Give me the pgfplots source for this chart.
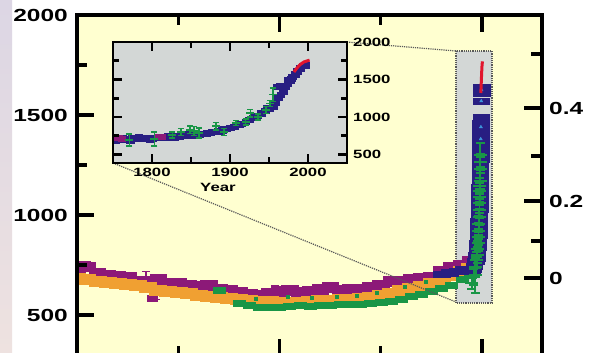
\documentclass[border=0pt]{standalone}
\usepackage{pgfplots}
\pgfplotsset{compat=1.18}
\usepackage{fontspec}
\setmainfont{Liberation Sans}
\newfontfamily\lblfont[FakeStretch=1.4]{Liberation Sans}
\definecolor{bgyellow}{RGB}{255,255,208}
\definecolor{insetgray}{RGB}{211,215,214}
\definecolor{purp}{RGB}{140,25,120}
\definecolor{orng}{RGB}{240,160,50}
\definecolor{grn}{RGB}{25,150,70}
\definecolor{navy}{RGB}{40,30,130}
\definecolor{lblue}{RGB}{60,150,220}
\definecolor{redd}{RGB}{225,20,45}
\definecolor{lav}{RGB}{220,214,228}
\definecolor{pinkish}{RGB}{238,226,224}
\begin{document}
\begin{tikzpicture}[x=1pt,y=1pt]
\useasboundingbox (0,0) rectangle (590,353);
\clip (0,0) rectangle (590,353);
\fill[white] (0,0) rectangle (590,353);
\shade[top color=lav, bottom color=pinkish] (0,0) rectangle (12,353);

% ---------------- main axis (x = years relative to 2005, negative = past) ----------------
\begin{axis}[
  at={(77pt,-3pt)}, anchor=south west, scale only axis,
  width=465pt, height=341pt,
  xmin=-10000, xmax=1480,
  ymin=295, ymax=2000,
  clip marker paths=true,
  axis on top,
  axis background/.style={fill=bgyellow},
  axis line style={line width=3.6pt},
  tick style={line width=3.3pt, black},
  major tick length=17pt, minor tick length=10pt,
  tick align=inside,
  xtick={-10000,-5000,0}, minor xtick={-7500,-2500}, xticklabels={,,},
  ytick={500,1000,1500,2000}, minor ytick={750,1250,1750},
  yticklabels={500,1000,1500,2000},
  ytick pos=left,
  yticklabel style={font=\lblfont\bfseries\fontsize{17.5}{20}\selectfont, anchor=east, inner sep=0pt, xshift=-9pt},
]
% zoom rectangle
\draw[densely dotted, line width=1.2pt, black!65, fill=insetgray] (axis cs:-642,560) rectangle (axis cs:247,1820);

% purple band
\addplot[only marks, mark=square*, color=purp, mark size=4.8pt, mark options={xscale=1.7}] coordinates {
(-10000,738)(-9875,745)(-9750,742)(-9500,712)(-9250,700)(-9000,695)(-8750,688)(-8500,672)(-8250,668)
(-8000,678)(-7750,660)(-7500,658)(-7250,650)(-7000,645)(-6750,648)(-6500,632)(-6250,625)
(-6000,615)(-5750,605)(-5500,600)(-5250,608)(-5000,620)(-4750,625)(-4500,615)(-4250,622)
(-4000,628)(-3750,638)(-3500,625)(-3250,632)(-3000,628)(-2750,640)(-2500,650)(-2250,668)
(-2000,672)(-1750,680)(-1500,685)(-1250,692)(-1000,722)(-750,738)(-500,752)(-300,772)
};
\addplot[only marks, mark=square*, color=purp, mark size=3pt, mark options={xscale=1.6}] coordinates {
(-8150,582)
};
\addplot[only marks, mark=-, color=purp, mark size=4pt, line width=1.6pt,
  error bars/.cd, y dir=both, y explicit, error bar style={line width=1.4pt, purp}] coordinates {
(-8050,640) +- (0,60) (-8300,690) +- (0,30) (-5100,625) +- (0,25) (-3700,640) +- (0,25)
};
% orange band
\addplot[only marks, mark=square*, color=orng, mark size=5pt, mark options={xscale=1.7}] coordinates {
(-10000,682)(-9750,678)(-9500,670)(-9250,664)(-9000,660)(-8750,655)(-8500,648)(-8250,638)
(-8000,622)(-7750,618)(-7500,613)(-7250,608)(-7000,600)(-6750,596)(-6500,590)(-6250,586)
(-6000,578)(-5750,572)(-5500,569)(-5250,567)(-5000,565)(-4750,566)(-4500,565)(-4250,570)
(-4000,572)(-3750,575)(-3500,578)(-3250,580)(-3000,582)(-2750,590)(-2500,600)(-2250,610)
(-2000,622)(-1750,632)(-1500,645)(-1250,660)(-1000,675)(-750,700)(-500,720)(-300,735)
};
% green band
\addplot[only marks, mark=square*, color=grn, mark size=3pt, mark options={xscale=2}] coordinates {
(-6500,625)(-6000,560)(-5750,548)(-5500,540)(-5250,538)(-5000,540)(-4750,545)(-4500,548)
(-4250,546)(-4000,548)(-3750,550)(-3500,552)(-3250,555)(-3000,556)(-2750,560)(-2500,565)
(-2250,570)(-2000,580)(-1750,592)(-1500,605)(-1250,618)(-1000,635)(-750,650)(-500,680)(-300,700)
};
\addplot[only marks, mark=square*, color=grn, mark size=1.5pt] coordinates {
(-5600,580)(-4800,590)(-4200,585)(-3600,592)(-3100,598)(-2600,612)(-1900,640)(-1400,665)(-800,705)
};
% blue (late Holocene + spike)
\addplot[only marks, mark=square*, color=navy, mark size=3.2pt, mark options={xscale=2.6}] coordinates {
(-1000,705)(-800,712)(-600,720)(-450,728)
(-250,720)(-220,730)(-190,745)(-160,770)(-140,785)(-130,800)(-120,815)(-110,840)(-102,860)(-95,880)
(-90,900)(-85,920)(-80,945)(-75,970)(-70,1000)(-65,1030)(-62,1055)(-58,1080)(-55,1110)(-52,1140)
(-50,1165)(-48,1190)(-46,1215)(-44,1240)(-42,1260)(-40,1280)(-38,1305)(-36,1330)(-34,1355)
(-33,1380)(-31,1400)(-30,1420)(-28,1440)(-27,1460)(-25,1480)(-24,1490)(-20,1570)(-15,1612)
(-13,1625)(-11,1640)
};
\addplot[only marks, mark=triangle*, color=lblue, mark size=1.8pt] coordinates {
(-130,800)(-85,920)(-70,1000)(-58,1080)(-50,1165)(-44,1240)(-38,1305)(-33,1380)(-28,1440)(-20,1570)(-13,1625)
};
% green spike
\addplot[only marks, mark=-, color=grn, mark size=6.5pt, line width=2pt,
  error bars/.cd, y dir=both, y explicit, error bar style={line width=1.6pt, grn},
  error mark options={rotate=90, mark size=4.5pt, line width=1.6pt, grn}] coordinates {
(-250,660) +- (0,30) (-200,690) +- (0,40) (-170,700) +- (0,90) (-150,740) +- (0,40)
(-130,775) +- (0,40) (-120,800) +- (0,40) (-110,830) +- (0,40) (-100,860) +- (0,40)
(-92,890) +- (0,40) (-85,920) +- (0,40) (-78,955) +- (0,40) (-70,990) +- (0,40)
(-65,1025) +- (0,40) (-60,1060) +- (0,50) (-57,1090) +- (0,40) (-55,1120) +- (0,40)
(-52,1145) +- (0,40) (-50,1170) +- (0,40) (-48,1230) +- (0,60) (-46,1265) +- (0,40)
(-45,1300) +- (0,60)
};
% red (instrumental)
\addplot[color=redd, line width=3pt] coordinates {
(-30,1610)(-20,1660)(-10,1710)(0,1750)(10,1768)
};
\end{axis}

% ---------------- right axis (forcing) ----------------
\begin{axis}[
  at={(77pt,-3pt)}, anchor=south west, scale only axis,
  width=465pt, height=341pt,
  xmin=-10000, xmax=1480,
  ymin=295, ymax=2000,
  axis x line=none, axis y line*=right,
  axis line style={line width=3.6pt, -},
  tick style={line width=3.3pt, black},
  major tick length=18pt, minor tick length=11pt,
  tick align=inside,
  ytick={685,1070,1535}, minor ytick={870,1295,1805},
  yticklabels={0,0.2,0.4},
  yticklabel style={font=\lblfont\bfseries\fontsize{17.5}{20}\selectfont, anchor=west, inner sep=0pt, xshift=7pt},
]
\end{axis}

% dotted connector lines
\draw[densely dotted, line width=1.2pt, black!65] (113,190) -- (456,51);
\draw[densely dotted, line width=1.2pt, black!65] (347,311) -- (456,302);

% ---------------- inset ----------------
\begin{axis}[
  at={(113pt,190pt)}, anchor=south west, scale only axis,
  width=234pt, height=121pt,
  xmin=1750, xmax=2050, ymin=387, ymax=2000,
  clip marker paths=true,
  axis on top,
  axis background/.style={fill=insetgray},
  axis line style={line width=2.8pt},
  tick style={line width=2.6pt, black},
  major tick length=9pt, minor tick length=6pt,
  tick align=inside,
  xtick={1800,1900,2000}, minor xtick={1850,1950},
  xticklabels={1800,1900,2000},
  ytick={500,1000,1500,2000}, minor ytick={750,1250,1750},
  yticklabels={500,1000,1500,2000},
  yticklabel pos=right,
  xticklabel style={font=\lblfont\bfseries\fontsize{12}{14}\selectfont, anchor=north, inner sep=0pt, yshift=-4.5pt},
  yticklabel style={font=\lblfont\bfseries\fontsize{12}{14}\selectfont, anchor=west, inner sep=0pt, xshift=6pt},
]
\addplot[only marks, mark=square*, color=navy, mark size=2.6pt, mark options={xscale=1.5}] coordinates {
(1750,705)(1753,690)(1756,712)(1760,700)(1765,710)(1770,705)(1775,718)(1780,712)
(1785,720)(1790,708)(1795,722)(1800,715)(1805,728)(1810,720)(1815,735)(1820,730)
(1825,738)(1830,745)(1835,740)(1840,755)(1845,750)(1850,762)(1855,758)(1860,770)
(1865,775)(1870,782)(1875,790)(1880,800)(1885,810)(1890,825)(1895,840)(1900,860)
(1905,875)(1910,895)(1915,915)(1920,940)(1925,965)(1930,995)(1935,1020)(1940,1050)
(1945,1080)(1950,1110)(1955,1140)(1958,1190)(1962,1260)(1965,1300)(1968,1340)
(1971,1400)(1974,1450)(1977,1490)(1980,1540)(1983,1570)(1986,1610)(1990,1650)
(1994,1680)(1997,1690)(1960,1400)(1964,1415)(1975,1500)(1978,1515)(1984,1560)
(1772,690)(1820,745)(1843,770)(1870,795)(1893,845)(1912,905)(1932,1020)(1948,1120)
(1762,728)(1783,730)(1798,700)(1828,722)(1852,775)(1877,805)
};
\addplot[only marks, mark=square*, color=purp, mark size=2.4pt, mark options={xscale=1.5}] coordinates {
(1754,722)(1757,728)(1761,716)(1808,745)(1812,740)
};
\addplot[only marks, mark=-, color=grn, mark size=4pt, line width=1.8pt,
  error bars/.cd, y dir=both, y explicit, error bar style={line width=1.5pt, grn},
  error mark options={rotate=90, mark size=3pt, line width=1.5pt, grn}] coordinates {
(1771,693) +- (0,80) (1803,707) +- (0,95) (1826,760) +- (0,40) (1837,800) +- (0,45)
(1849,827) +- (0,50) (1854,813) +- (0,60) (1860,787) +- (0,65) (1882,880) +- (0,50)
(1892,800) +- (0,45) (1908,920) +- (0,35) (1920,933) +- (0,40) (1926,1053) +- (0,50)
(1936,1000) +- (0,40) (1946,1093) +- (0,45) (1951,1180) +- (0,40) (1955,1300) +- (0,90)
};
\addplot[color=redd, line width=3pt] coordinates {
(1982,1600)(1986,1655)(1990,1700)(1995,1735)(2002,1758)
};
\end{axis}
\node[font=\lblfont\bfseries\fontsize{12}{14}\selectfont, inner sep=0pt] at (218,166) {Year};
\end{tikzpicture}
\end{document}
